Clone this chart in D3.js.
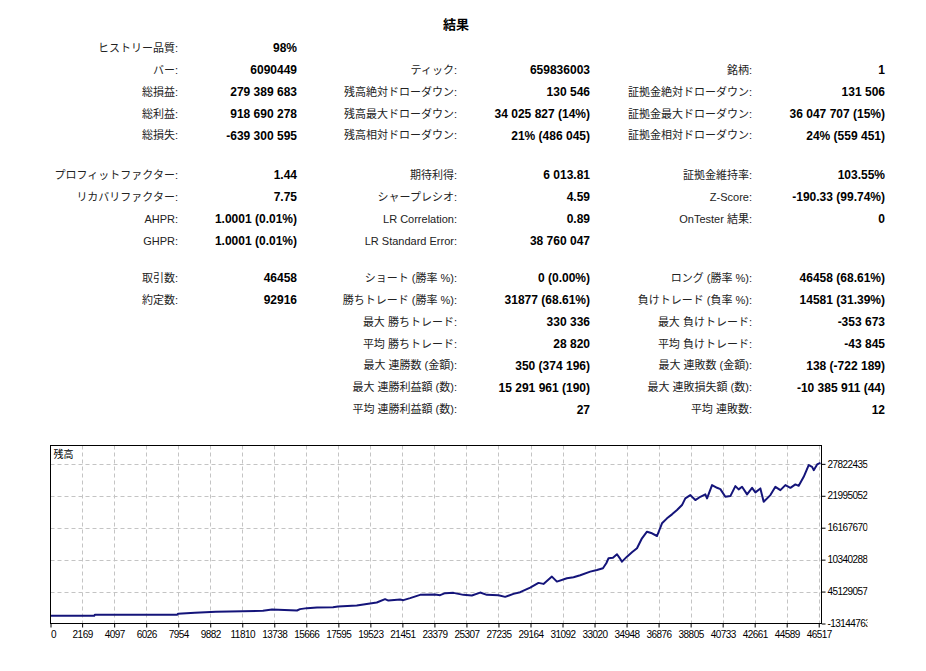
<!DOCTYPE html>
<html>
<head>
<meta charset="utf-8">
<script src="https://cdnjs.cloudflare.com/ajax/libs/d3/7.8.5/d3.min.js"></script>
<style>
  body { margin: 0; background: #fff; }
  .lbl { font-family: "Liberation Sans", "Noto Sans CJK JP", sans-serif; font-size: 11px; fill: #222; }
  .val { font-family: "Liberation Sans", "Noto Sans CJK JP", sans-serif; font-size: 12px; font-weight: bold; fill: #000; }
  .axis text { font-family: "Liberation Sans", sans-serif; font-size: 10px; letter-spacing: -0.55px; fill: #000; }
</style>
</head>
<body>
<div id="report"></div>
<script>
// report table, 3 groups of rows, 3 column pairs
const title = '結果'

const col1Labels = [
  ['ヒストリー品質:', 'バー:', '総損益:', '総利益:', '総損失:'],
  ['プロフィットファクター:', 'リカバリファクター:', 'AHPR:', 'GHPR:'],
  ['取引数:', '約定数:']
]
const col1Values = [
  ['98%', '6090449', '279 389 683', '918 690 278', '-639 300 595'],
  ['1.44', '7.75', '1.0001 (0.01%)', '1.0001 (0.01%)'],
  ['46458', '92916']
]
const col2Labels = [
  ['', 'ティック:', '残高絶対ドローダウン:', '残高最大ドローダウン:', '残高相対ドローダウン:'],
  ['期待利得:', 'シャープレシオ:', 'LR Correlation:', 'LR Standard Error:'],
  ['ショート (勝率 %):', '勝ちトレード (勝率 %):', '最大 勝ちトレード:', '平均 勝ちトレード:', '最大 連勝数 (金額):', '最大 連勝利益額 (数):', '平均 連勝利益額 (数):']
]
const col2Values = [
  ['', '659836003', '130 546', '34 025 827 (14%)', '21% (486 045)'],
  ['6 013.81', '4.59', '0.89', '38 760 047'],
  ['0 (0.00%)', '31877 (68.61%)', '330 336', '28 820', '350 (374 196)', '15 291 961 (190)', '27']
]
const col3Labels = [
  ['', '銘柄:', '証拠金絶対ドローダウン:', '証拠金最大ドローダウン:', '証拠金相対ドローダウン:'],
  ['証拠金維持率:', 'Z-Score:', 'OnTester 結果:', ''],
  ['ロング (勝率 %):', '負けトレード (負率 %):', '最大 負けトレード:', '平均 負けトレード:', '最大 連敗数 (金額):', '最大 連敗損失額 (数):', '平均 連敗数:']
]
const col3Values = [
  ['', '1', '131 506', '36 047 707 (15%)', '24% (559 451)'],
  ['103.55%', '-190.33 (99.74%)', '0', ''],
  ['46458 (68.61%)', '14581 (31.39%)', '-353 673', '-43 845', '138 (-722 189)', '-10 385 911 (44)', '12']
]

// balance curve (trade no., balance)
const tradeNo = [
  0, 2900, 2934, 7900, 7936, 8960, 10225, 13057, 13600, 15106, 15287, 15708, 16311, 17275, 17576,
  18703, 19505, 19908, 20408, 20607, 21312, 21511, 21915, 22517, 23421, 23722, 24024, 24524, 25126,
  25633, 26133, 26536, 27235, 27639, 28139, 28543, 29145, 29645, 29947, 30453, 30754, 31357, 31754,
  32158, 32761, 33164, 33526, 33727, 33863, 34128, 34370, 34568, 34671, 34972, 35273, 35575, 35876,
  36177, 36479, 36780, 37081, 37382, 37684, 37985, 38286, 38485, 38787, 39088, 39389, 39690, 39793,
  40094, 40395, 40594, 40895, 41197, 41498, 41696, 41901, 42203, 42504, 42703, 43004, 43203, 43607,
  43908, 44209, 44510, 44812, 45113, 45312, 45613, 45914, 46119, 46216, 46421, 46620
]
const balance = [
  88000, 88000, 270000, 270000, 452000, 634000, 816000, 998000, 1235000, 1053000, 1308000, 1490000, 1599000, 1650000, 1781000,
  1963000, 2328000, 2510000, 3129000, 2874000, 3056000, 2947000, 3311000, 3912000, 3967000, 3857000, 4222000, 4276000, 3912000,
  3784000, 4331000, 3912000, 3857000, 3548000, 4094000, 4404000, 5242000, 6097000, 5915000, 7245000, 6334000, 6953000, 7135000,
  7500000, 8155000, 8465000, 8774000, 9685000, 10595000, 10705000, 11324000, 10468000, 9976000, 10887000, 11688000, 12416000, 14237000,
  15439000, 15148000, 14656000, 16969000, 17879000, 18608000, 19391000, 20301000, 21521000, 22122000, 21212000, 21813000, 22250000, 21521000,
  23944000, 23452000, 23215000, 21813000, 21940000, 23761000, 23160000, 23634000, 22250000, 23452000, 22614000, 23342000, 20903000, 22122000,
  23634000, 23033000, 23944000, 23452000, 24071000, 23816000, 25455000, 27586000, 27276000, 26675000, 27713000, 28004000
]

// axes as labelled in the picture
const xTicks = [0, 2169, 4097, 6026, 7954, 9882, 11810, 13738, 15666, 17595, 19523, 21451, 23379,
  25307, 27235, 29164, 31092, 33020, 34948, 36876, 38805, 40733, 42661, 44589, 46517]
const yTicks = [-1314476.3, 4512905.7, 10340288, 16167670, 21995052, 27822435]
const yTickLabels = ['-13144763', '45129057', '10340288', '16167670', '21995052', '27822435']
const xDomain = [265, 46684]
const yDomain = [-1314476.3, 31173181]

const width = 926, height = 671

const svg = d3.select('#report')
  .append('svg')
  .attr('width', width)
  .attr('height', height)

svg.append('text')
  .attr('x', 456).attr('y', 29)
  .attr('text-anchor', 'middle')
  .attr('font-family', '"Noto Sans CJK JP", sans-serif')
  .attr('font-size', 13).attr('font-weight', 'bold')
  .text(title)

// table
const groupTop = [48, 175, 278]
const rowStep = 21.9
const columns = [
  {labels: col1Labels, values: col1Values, lx: 178, vx: 297},
  {labels: col2Labels, values: col2Values, lx: 457, vx: 590},
  {labels: col3Labels, values: col3Values, lx: 752, vx: 885}
]
columns.forEach(col => {
  col.labels.forEach((rows, g) => {
    rows.forEach((lab, r) => {
      const y = groupTop[g] + r * rowStep
      svg.append('text').attr('class', 'lbl')
        .attr('x', col.lx).attr('y', y).attr('dy', '0.35em')
        .attr('text-anchor', 'end').text(lab)
      svg.append('text').attr('class', 'val')
        .attr('x', col.vx).attr('y', y).attr('dy', '0.35em')
        .attr('text-anchor', 'end').text(col.values[g][r])
    })
  })
})

// chart
const plot = {left: 50.5, right: 821.5, top: 445.5, bottom: 623.5}

const x = d3.scaleLinear()
  .domain(xDomain)
  .range([plot.left, plot.right])
  .clamp(true)
const y = d3.scaleLinear()
  .domain(yDomain)
  .range([plot.bottom, plot.top])

const grid = svg.append('g')
  .attr('stroke', '#c4c4c4')
  .attr('stroke-dasharray', '4,3')
  .attr('stroke-width', 1)
grid.selectAll('.gx')
  .data(xTicks.slice(1))
  .join('line')
  .attr('x1', d => Math.round(x(d)) + 0.5).attr('x2', d => Math.round(x(d)) + 0.5)
  .attr('y1', plot.top).attr('y2', plot.bottom)
grid.selectAll('.gy')
  .data(yTicks.slice(1))
  .join('line')
  .attr('x1', plot.left).attr('x2', plot.right)
  .attr('y1', d => Math.round(y(d)) + 0.5).attr('y2', d => Math.round(y(d)) + 0.5)

const line = d3.line()
  .x((d, i) => x(tradeNo[i]))
  .y(d => y(d))

svg.append('path')
  .datum(balance)
  .attr('fill', 'none')
  .attr('stroke', '#14147a')
  .attr('stroke-width', 2)
  .attr('stroke-linejoin', 'round')
  .attr('d', line)

svg.append('rect')
  .attr('x', plot.left).attr('y', plot.top)
  .attr('width', plot.right - plot.left).attr('height', plot.bottom - plot.top)
  .attr('fill', 'none').attr('stroke', '#000')

svg.append('text')
  .attr('x', plot.left + 3).attr('y', plot.top + 12)
  .attr('font-family', '"Noto Sans CJK JP", sans-serif')
  .attr('font-size', 10)
  .text('残高')

// x axis
const xAxis = svg.append('g')
  .attr('class', 'axis')
  .attr('transform', `translate(0,${plot.bottom})`)
  .call(d3.axisBottom(x).tickValues(xTicks).tickFormat(d => String(d)).tickSize(4).tickPadding(3))
xAxis.select('.domain').remove()
xAxis.selectAll('.tick text').filter(d => d === 0).attr('text-anchor', 'start')

// y axis on the right, labels clipped like in the terminal
// (clip rect is in the axis group's own, translated coordinates)
svg.append('clipPath').attr('id', 'yclip')
  .append('rect').attr('x', 0).attr('y', plot.top - 10).attr('width', 46).attr('height', 200)

const yAxis = svg.append('g')
  .attr('class', 'axis')
  .attr('transform', `translate(${plot.right},0)`)
  .attr('clip-path', 'url(#yclip)')
  .call(d3.axisRight(y).tickValues(yTicks).tickFormat((d, i) => yTickLabels[i]).tickSize(4).tickPadding(2))
yAxis.select('.domain').remove()
</script>
</body>
</html>
